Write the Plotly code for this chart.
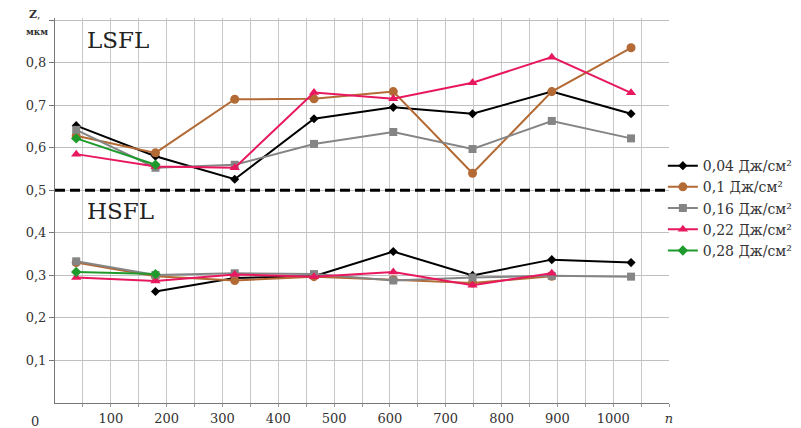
import plotly.graph_objects as go

n_vals = [38, 180, 322, 464, 606, 748, 890, 1032]
series_names = ["0,04 Дж/см²", "0,1 Дж/см²", "0,16 Дж/см²", "0,22 Дж/см²", "0,28 Дж/см²"]

# LSFL (upper) period values
lsfl_004 = [0.652, 0.580, 0.526, 0.668, 0.695, 0.680, 0.732, 0.680]
lsfl_01 = [0.628, 0.588, 0.714, 0.715, 0.732, 0.540, 0.732, 0.835]
lsfl_016 = [0.642, 0.553, 0.560, 0.609, 0.637, 0.597, 0.663, 0.622]
lsfl_022 = [0.585, 0.556, 0.553, 0.730, 0.715, 0.753, 0.813, 0.729]
lsfl_028 = [0.622, 0.560, None, None, None, None, None, None]

# HSFL (lower) period values
hsfl_004 = [None, 0.262, 0.294, 0.298, 0.356, 0.300, 0.337, 0.330]
hsfl_01 = [0.330, 0.298, 0.288, 0.297, 0.290, 0.282, 0.298, None]
hsfl_016 = [0.333, 0.301, 0.305, 0.303, 0.288, 0.295, 0.299, 0.297]
hsfl_022 = [0.295, 0.287, 0.302, 0.297, 0.308, 0.277, 0.305, None]
hsfl_028 = [0.308, 0.303, None, None, None, None, None, None]

x_ticks = [50, 100, 150, 200, 250, 300, 350, 400, 450, 500, 550, 600, 650, 700,
           750, 800, 850, 900, 950, 1000, 1050, 1100]
x_ticktext = ["", "100", "", "200", "", "300", "", "400", "", "500", "", "600", "", "700",
              "", "800", "", "900", "", "1000", "", "<i>n</i>"]
y_ticks = [0.1, 0.2, 0.3, 0.4, 0.5, 0.6, 0.7, 0.8, 0.9]
y_ticktext = ["0,1", "0,2", "0,3", "0,4", "0,5", "0,6", "0,7", "0,8", ""]

colors = ["#000000", "#B36A35", "#858585", "#E8185F", "#1E9B2C"]
symbols = ["diamond", "circle", "square", "triangle-up", "diamond"]
sizes = [7, 9, 8, 9, 8]

lsfl = [lsfl_004, lsfl_01, lsfl_016, lsfl_022, lsfl_028]
hsfl = [hsfl_004, hsfl_01, hsfl_016, hsfl_022, hsfl_028]

FONT = "DejaVu Serif"

fig = go.Figure()
for i in range(5):
    for j, data in enumerate([lsfl[i], hsfl[i]]):
        fig.add_trace(go.Scatter(
            x=n_vals, y=data, mode="lines+markers",
            name=series_names[i], legendgroup=series_names[i],
            showlegend=(j == 0),
            line=dict(color=colors[i], width=2),
            marker=dict(symbol=symbols[i], size=sizes[i], color=colors[i]),
            connectgaps=False,
        ))

fig.add_shape(type="line", xref="x", yref="y", x0=0, x1=1100, y0=0.5, y1=0.5,
              line=dict(color="black", width=3, dash="10px,5px"), layer="above")

fig.add_annotation(x=0.049, xref="paper", y=0.943, yref="paper", text="LSFL",
                   showarrow=False, xanchor="left", yanchor="middle",
                   font=dict(family=FONT, size=23, color="#222"))
fig.add_annotation(x=0.049, xref="paper", y=0.50, yref="paper", text="HSFL",
                   showarrow=False, xanchor="left", yanchor="middle",
                   font=dict(family=FONT, size=23, color="#222"))

fig.update_layout(
    width=793, height=420,
    margin=dict(l=47, r=132, t=10, b=25, autoexpand=False),
    paper_bgcolor="white", plot_bgcolor="white",
    font=dict(family=FONT, size=13, color="#333"),
    legend=dict(x=0.99, y=0.657, xanchor="left", yanchor="top",
                font=dict(family=FONT, size=14, color="#333"),
                bgcolor="rgba(0,0,0,0)", tracegroupgap=0, itemwidth=30),
    xaxis=dict(range=[0, 1100], tickmode="array", tickvals=x_ticks, ticktext=x_ticktext,
               showgrid=True, gridcolor="#c8c8c8", gridwidth=1, automargin=False,
               showline=True, linecolor="#777", linewidth=1,
               ticks="outside", ticklen=3, tickcolor="#999",
               zeroline=False, tickfont=dict(family=FONT, size=13, color="#333")),
    yaxis=dict(range=[0, 0.905], tickmode="array", tickvals=y_ticks, ticktext=y_ticktext,
               showgrid=True, gridcolor="#c0c0c0", gridwidth=1, automargin=False,
               showline=True, linecolor="#777", linewidth=1,
               ticks="outside", ticklen=5, tickcolor="#777",
               zeroline=False, tickfont=dict(family=FONT, size=13, color="#333")),
    showlegend=True,
)

fig.add_annotation(x=-0.033, xref="paper", y=-0.047, yref="paper", text="0",
                   showarrow=False, xanchor="center", yanchor="middle",
                   font=dict(family=FONT, size=13, color="#333"))
fig.add_annotation(x=-0.032, xref="paper", y=1.01, yref="paper", text="<b>Z</b>,",
                   showarrow=False, xanchor="center", yanchor="middle",
                   font=dict(family=FONT, size=11, color="#333"))
fig.add_annotation(x=-0.03, xref="paper", y=0.963, yref="paper", text="<b>мкм</b>",
                   showarrow=False, xanchor="center", yanchor="middle",
                   font=dict(family=FONT, size=9, color="#333"))

fig.write_html("out.html")
